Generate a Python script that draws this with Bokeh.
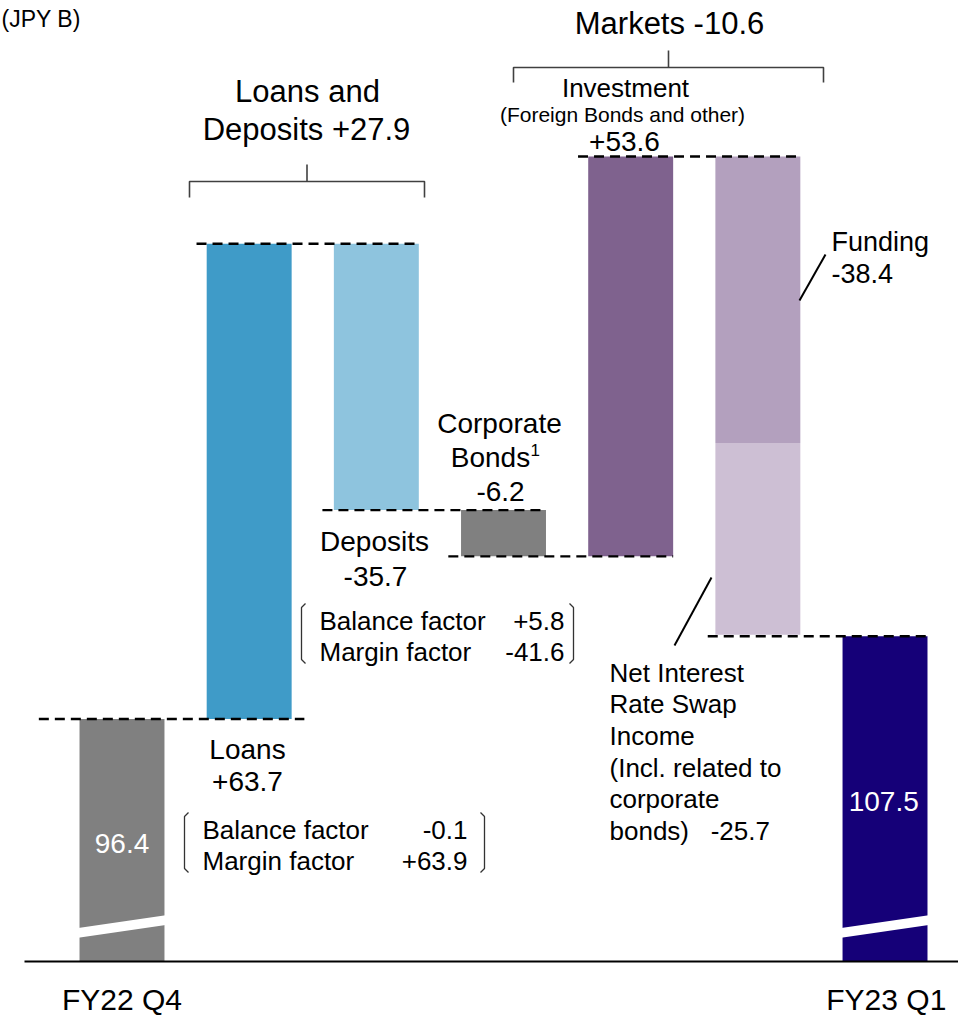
import numpy as np
from bokeh.plotting import figure
from bokeh.models import Range1d, ColumnDataSource
from bokeh.core.properties import value
from bokeh.embed import file_html
from bokeh.resources import INLINE

# ---------------- data ----------------
start_label = "FY22 Q4"
end_label = "FY23 Q1"
start_value = 96.4
end_value = 107.5

step_names = ["Loans", "Deposits", "Corporate Bonds", "Investment", "Funding",
              "Net Interest Rate Swap Income"]
step_values = [63.7, -35.7, -6.2, 53.6, -38.4, -25.7]
step_x = [1, 2, 3, 4, 5, 5]
start_x = 0
end_x = 6

group_names = ["Loans and Deposits", "Markets"]
group_values = [27.9, -10.6]

loan_factor_names = ["Balance factor", "Margin factor"]
loan_factor_values = [-0.1, 63.9]
deposit_factor_names = ["Balance factor", "Margin factor"]
deposit_factor_values = [5.8, -41.6]

# ---------------- styles ----------------
C_START = "#808080"
C_END = "#150078"
step_colors = ["#3F9BC8", "#8EC4DE", "#808080", "#7F628E", "#B3A0BE", "#CDBFD4"]
FONT = value("Liberation Sans")
BAR_W = 0.668
NBSP = "\u00a0"

# pixel -> data helpers (layout of annotations only)
X_PX0, X_STEP = 121.5, 127.17
Y_PX0, Y_SCALE = 718.5, 7.46


def X(px):
    return (px - X_PX0) / X_STEP


def Y(py):
    return start_value + (Y_PX0 - py) / Y_SCALE


AXIS_BASE = Y(961)

p = figure(width=958, height=1018, x_range=Range1d(X(0), X(958)),
           y_range=Range1d(Y(1018), Y(0)), output_backend="svg",
           toolbar_location=None, min_border=0)
p.axis.visible = False
p.grid.visible = False
p.outline_line_color = None
p.background_fill_color = "white"

# ---------------- waterfall geometry ----------------
cum = start_value + np.cumsum(step_values)
prev = np.concatenate([[start_value], cum[:-1]])
step_top = np.maximum(prev, cum)
step_bot = np.minimum(prev, cum)

bars = ColumnDataSource(dict(
    x=[start_x] + step_x + [end_x],
    top=[start_value] + list(step_top) + [end_value],
    bottom=[AXIS_BASE] + list(step_bot) + [AXIS_BASE],
    color=[C_START] + step_colors + [C_END],
))
p.vbar(x="x", top="top", bottom="bottom", width=BAR_W, color="color", source=bars,
       line_color=None)

# axis break marks (white slanted bands)
brk_xs, brk_ys = [], []
for bx in [start_x, end_x]:
    x0, x1 = bx - BAR_W / 2 - 0.01, bx + BAR_W / 2 + 0.01
    yl, yr = AXIS_BASE + 3.85, AXIS_BASE + 5.55
    h = 0.65
    brk_xs.append([x0, x1, x1, x0])
    brk_ys.append([yl - h, yr - h, yr + h, yl + h])
p.patches(brk_xs, brk_ys, fill_color="white", line_color=None)

# baseline
p.segment(x0=[X(24)], y0=[AXIS_BASE], x1=[X(960)], y1=[AXIS_BASE],
          line_color="black", line_width=2.2)

# dashed connectors
levels = [start_value, cum[0], cum[1], cum[2], cum[3], end_value]
from_x = [start_x, 1, 2, 3, 4, 5]
to_x = [1, 2, 3, 4, 5, end_x]
left_ext = [0.32, 0.08, 0.09, 0.10, 0.08, 0.06]
right_ext = [0.10, 0.0, 0.0, 0.0, 0.0, 0.0]
p.segment(x0=[fx - BAR_W / 2 - le for fx, le in zip(from_x, left_ext)],
          x1=[tx + BAR_W / 2 + re for tx, re in zip(to_x, right_ext)],
          y0=levels, y1=levels, line_color="black", line_width=2.4,
          line_dash="10 6")


# ---------------- text helper ----------------
def label(x, y, s, size, align="center", color="black"):
    p.text(x=[x], y=[y], text=[s], text_font=FONT, text_font_size=f"{size}px",
           text_align=align, text_baseline="middle", text_color=color)


def fmt(v):
    return f"{v:+.1f}"


# unit
label(X(1), Y(18), "(JPY B)", 23, align="left")

# group brackets
BR_COLOR = "#404040"
for (xl, xr, yh, ydown, yup) in [(X(189), X(424), Y(181), Y(197), Y(164)),
                                 (X(513), X(823), Y(67), Y(82), Y(50))]:
    xc = (xl + xr) / 2
    p.multi_line(xs=[[xl, xl, xr, xr], [xc, xc]],
                 ys=[[ydown, yh, yh, ydown], [yh, yup]],
                 line_color=BR_COLOR, line_width=1.6)

label(X(307), Y(91), "Loans and", 31)
label(X(306), Y(129), f"Deposits {fmt(group_values[0])}", 31)
label(X(669), Y(23), f"Markets {fmt(group_values[1])}", 31)

label(X(625), Y(87), "Investment", 26)
label(X(622), Y(114), "(Foreign Bonds and other)", 21)
label(X(624), Y(141), fmt(step_values[3]), 28)

label(X(831), Y(241), "Funding", 27, align="left")
label(X(831), Y(273), fmt(step_values[4]), 27, align="left")

label(X(499), Y(423), "Corporate", 28)
label(X(490), Y(457), "Bonds", 28)
label(X(530), Y(449), "1", 17, align="left")
label(X(500), Y(491), fmt(step_values[2]), 28)

label(X(374), Y(541), "Deposits", 28)
label(X(375), Y(576), fmt(step_values[1]), 28)

label(X(247), Y(749), "Loans", 28)
label(X(247), Y(781), fmt(step_values[0]), 28)

# factor boxes
for (xl, xr, ytop, ybot, names, vals, txl, txr) in [
        (301, 573, 603, 663, deposit_factor_names, deposit_factor_values, 319, 564),
        (184, 484, 812, 872, loan_factor_names, loan_factor_values, 202, 467)]:
    p.multi_line(xs=[[X(xl + 4), X(xl), X(xl), X(xl + 4)],
                     [X(xr - 4), X(xr), X(xr), X(xr - 4)]],
                 ys=[[Y(ytop), Y(ytop + 4), Y(ybot - 4), Y(ybot)],
                     [Y(ytop), Y(ytop + 4), Y(ybot - 4), Y(ybot)]],
                 line_color="#333333", line_width=1.3)
    for i, (n, v) in enumerate(zip(names, vals)):
        yy = ytop + 17 + i * 31
        label(X(txl), Y(yy), n, 26, align="left")
        label(X(txr), Y(yy), fmt(v), 26, align="right")

# NIRS label
nirs_lines = ["Net Interest", "Rate Swap", "Income", "(Incl. related to",
              "corporate", "bonds)" + NBSP * 3 + fmt(step_values[5])]
for i, s in enumerate(nirs_lines):
    label(X(609), Y(672 + i * 31.7), s, 26, align="left")

# leader lines
p.segment(x0=[X(799), X(674)], y0=[Y(300), Y(645)],
          x1=[X(825), X(711)], y1=[Y(254), Y(577)],
          line_color="black", line_width=2)

# start / end values
label(start_x, Y(843), f"{start_value:.1f}", 28, color="white")
label(end_x - 0.01, Y(801), f"{end_value:.1f}", 28, color="white")

# category labels
label(start_x, Y(999), start_label, 30)
label(end_x + 0.01, Y(999), end_label, 30)

open("out.html", "w").write(file_html(p, INLINE))
